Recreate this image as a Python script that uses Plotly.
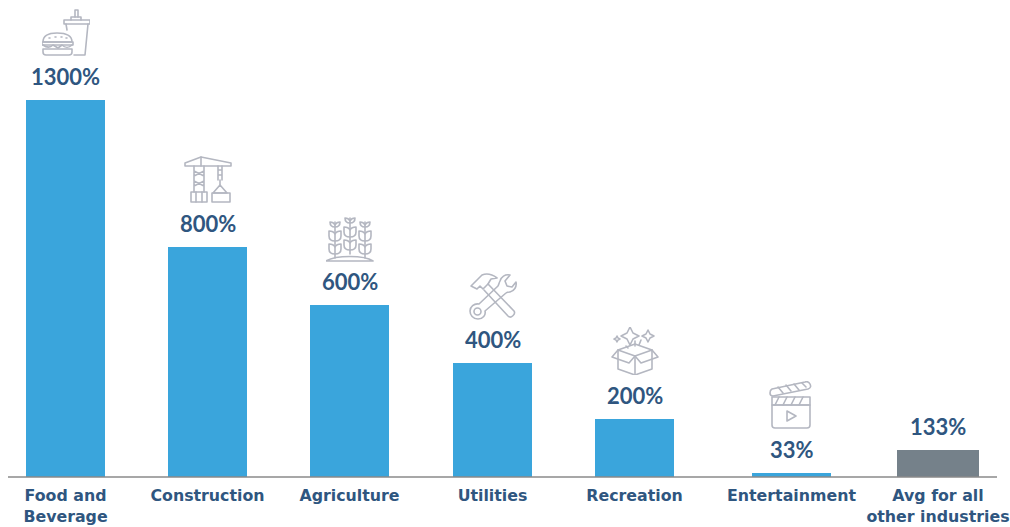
import base64
import plotly.graph_objects as go

# ---- data ----
categories = ["Food and<br>Beverage", "Construction", "Agriculture", "Utilities",
              "Recreation", "Entertainment", "Avg for all<br>other industries"]
value_labels = ["1300%", "800%", "600%", "400%", "200%", "33%", "133%"]
# drawn bar heights (the source's short bars are not to label scale)
bar_heights = [1300, 793, 593, 393, 200, 14, 93]
bar_colors = ["#3aa5dc"] * 6 + ["#75818a"]

# ---- layout ----
W, H = 1010, 527
PLOT_L, PLOT_R, PLOT_B = 8, 1010, 477
AXIS_END = 997
slot_centers = [65.5, 207.5, 349.5, 492.5, 634.5, 791.5, 938]
slot_widths = [79, 79, 79, 79, 79, 79, 82]
PX_PER_UNIT = 0.29
TEXT = "#2f5680"
ICON = "#b4b7c1"


def svg(body):
    s = (f'<svg xmlns="http://www.w3.org/2000/svg" width="192" height="192" viewBox="0 0 48 48" '
         f'fill="none" stroke="{ICON}" stroke-width="1.6" stroke-linejoin="round" stroke-linecap="round">'
         f'{body}</svg>')
    return "data:image/svg+xml;base64," + base64.b64encode(s.encode()).decode()


burger = svg(
    '<path d="M22 11h26v4H22z"/><path d="M24 15l1 6M46 15l-3 31H32"/><path d="M29 11V8h10v3"/>'
    '<path d="M33 8V1h3v7"/>'
    '<path d="M1 33c0-7 6-9 14-9s15 2 15 9z"/><path d="M7 29h1M13 28h1M19 28h1M24 29h1"/>'
    '<path d="M0 33h31v3H0z"/><path d="M1 36c4 3 7 3 10 0l5 3 4-3c3 3 7 3 10 0"/>'
    '<path d="M1 40h29v3c0 2-1 3-3 3H4c-2 0-3-1-3-3z"/>')
crane = svg(
    '<path d="M1 8l16-6 30 6v3H1z"/><path d="M17 2v9"/>'
    '<path d="M10 11v26M20 11v26M10 16l10 5M20 16l-10 5M10 26l10 5M20 26l-10 5"/>'
    '<path d="M7 37h16v10H7z"/><path d="M12 37v10M18 37v10"/>'
    '<path d="M34 11v14M38 11v14M34 15h4M34 20h4"/><path d="M36 25v5"/>'
    '<path d="M36 30l-7 8h14z"/><path d="M28 38h18v9H28z"/>')
plants = svg(
    ''.join(
        f'<g transform="translate({dx} {dy})"><path d="M0 40V4"/>'
        '<path d="M-5 4c0 4 2 5 5 5s5-1 5-5c-2 0-4 1-5 3-1-2-3-3-5-3z"/>'
        '<path d="M-6 13v5c0 4 3 5 6 5s6-1 6-5v-5c-2 0-5 1-6 3-1-2-4-3-6-3z"/>'
        '<path d="M-6 26v5c0 4 3 5 6 5s6-1 6-5v-5c-2 0-5 1-6 3-1-2-4-3-6-3z"/></g>'
        for dx, dy in [(9, 4), (24, 0), (39, 4)])
    + '<path d="M0 47c10-6 38-6 47 0zM0 47h47"/>')
tools = svg(
    '<path d="M2 13L13 2c5-2 11 0 15 3l-6 1-3 5-5 5-3-3-3 3z"/>'
    '<path d="M19 11l26 27c2 3-3 8-6 5L15 17"/>'
    '<path d="M31 8c1-4 5-7 10-6l-5 6 2 5 5 1 4-5c1 5-2 9-6 10-2 0-3 0-4 1L16 38c1 4-2 8-7 8s-8-4-8-8 4-8 9-7L29 13c1-2 1-3 2-5z"/>'
    '<circle cx="8.500" cy="38.500" r="3.500"/>')
box = svg(
    '<path d="M24 29L7 23v19l17 6 17-6V23z"/><path d="M24 29v19"/>'
    '<path d="M7 23l17-6 17 6"/><path d="M7 23L1 30l17 6 6-7 6 7 17-6-6-7"/>'
    '<path d="M19 0l3 6 6 3-6 3-3 6-3-6-6-3 6-3z"/><path d="M37 3l2 4 4 2-4 2-2 4-2-4-4-2 4-2z"/>'
    '<path d="M6 9l1 2 2 1-2 1-1 2-1-2-2-1 2-1z"/><path d="M24 14v5M30 13l-2 5M15 19l2 2"/>')
clapper = svg(
    '<path d="M5 24h38v20c0 2-1 3-3 3H8c-2 0-3-1-3-3z"/><path d="M5 16h38v8H5z"/>'
    '<path d="M12 16l-4 8M20 16l-4 8M28 16l-4 8M36 16l-4 8"/>'
    '<path d="M6 15c-2 0-3-1-3-3s0-3 2-4L38 1c3-1 4 0 5 2s1 4-2 5z"/>'
    '<path d="M11 6l5 6M19 4l5 6M27 3l5 6M35 2l4 4"/><path d="M20 30l9 5-9 5z"/>')

# x0, y0, size of each icon in page pixels
icons = [(burger, 42, 9, 48), (crane, 184, 155, 48), (plants, 326, 214, 48),
         (tools, 469, 273, 48), (box, 611, 327, 48), (clapper, 767, 381, 48)]

fig = go.Figure(go.Bar(
    x=slot_centers, y=bar_heights, width=slot_widths,
    marker=dict(color=bar_colors, line=dict(width=0)), hoverinfo="skip"))

for cx, h, label in zip(slot_centers, bar_heights, value_labels):
    fig.add_annotation(x=cx, y=h, text=f"<b>{label}</b>", showarrow=False, yanchor="bottom",
                       yshift=8, font=dict(family="Lato, Open Sans, sans-serif", size=22, color=TEXT))

for src, x0, y0, s in icons:
    fig.add_layout_image(source=src, xref="x", yref="paper", x=x0, y=1 - y0 / PLOT_B,
                         sizex=s, sizey=s / PLOT_B, xanchor="left", yanchor="top",
                         sizing="contain", layer="above")

fig.add_shape(type="line", xref="x", yref="paper", x0=PLOT_L, x1=AXIS_END, y0=0, y1=0,
              line=dict(color="#8a8a8a", width=1.5), layer="above")

fig.update_layout(
    width=W, height=H, autosize=False, showlegend=False,
    paper_bgcolor="white", plot_bgcolor="white",
    margin=dict(l=PLOT_L, r=W - PLOT_R, t=0, b=H - PLOT_B, pad=0),
    xaxis=dict(range=[PLOT_L, PLOT_R], tickmode="array", tickvals=slot_centers, ticktext=[f"<b>{c}</b>" for c in categories],
               showgrid=False, zeroline=False, showline=False,
               ticks="outside", ticklen=4, tickcolor="rgba(0,0,0,0)",
               tickangle=0, tickfont=dict(family="DejaVu Sans", size=15.8, color=TEXT)),
    yaxis=dict(range=[0, PLOT_B / PX_PER_UNIT], visible=False),
)
fig.write_html("out.html", config={"displayModeBar": False},
               default_width=W, default_height=H,
               post_script="document.body.style.margin='0';document.documentElement.style.overflow='hidden';")
